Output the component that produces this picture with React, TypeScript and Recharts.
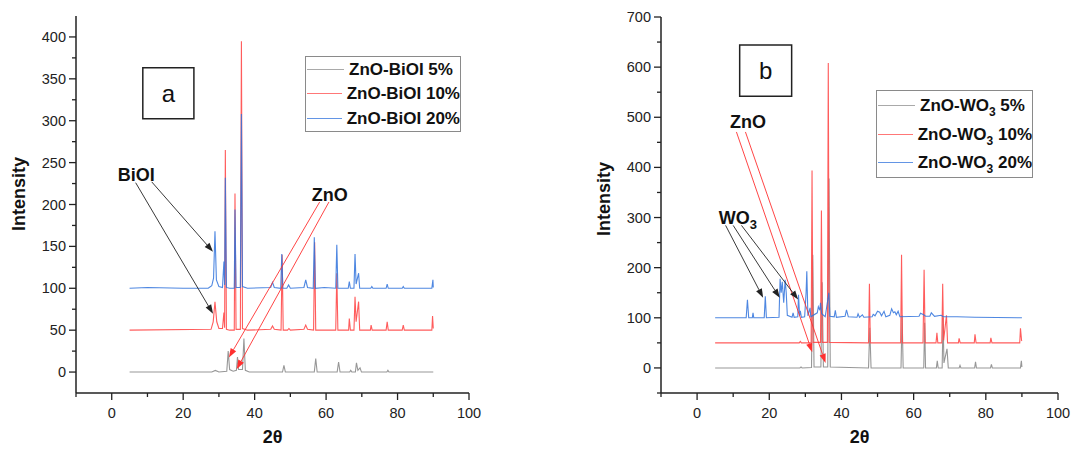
import React from 'react'
import { LineChart, Line, XAxis, YAxis, Legend, ReferenceLine, ReferenceArea, ReferenceDot } from 'recharts'

type Pt = [number, number]

const FONT = '"Liberation Sans", Arial, sans-serif'

// axis ticks
const xMajor = [0, 20, 40, 60, 80, 100]
const xMinor = [-10, 10, 30, 50, 70, 90]
const yMajorA = [0, 50, 100, 150, 200, 250, 300, 350, 400]
const yMinorA = [25, 75, 125, 175, 225, 275, 325, 375]
const yMajorB = [0, 100, 200, 300, 400, 500, 600, 700]
const yMinorB = [-50, 50, 150, 250, 350, 450, 550, 650]

const namesA = ['ZnO-BiOI 5%', 'ZnO-BiOI 10%', 'ZnO-BiOI 20%']
const namesB = ['ZnO-WO3 5%', 'ZnO-WO3 10%', 'ZnO-WO3 20%']
const colors = ['#8c8c8c', '#ff4a4a', '#2f72dc']

// panel a : [2θ, intensity]
const bioi5: Pt[] = [
  [5, 0], [28, 0], [29, 2], [30, 0], [32.2, 1], [32.6, 25], [33, 3], [34, 1], [34.9, 2], [35.2, 18], [35.5, 3],
  [36.6, 3], [37, 40], [37.4, 2], [38.5, 0], [47.8, 0], [48.2, 8], [48.6, 0], [56.7, 0], [57.1, 16], [57.5, 0],
  [63.1, 0], [63.5, 12], [63.9, 0], [66.6, 0], [66.9, 2], [67.2, 0], [68.2, 0], [68.5, 11], [68.9, 2], [69.5, 5],
  [69.9, 0], [77, 0], [77.3, 2], [77.6, 0], [90, 0],
]
const bioi10: Pt[] = [
  [5, 50], [27.8, 51], [28.4, 60], [28.9, 84], [29.4, 60], [30, 52], [31, 52], [31.4, 71], [31.6, 53], [31.8, 265],
  [32.1, 51], [33, 50], [34.3, 50], [34.5, 213], [34.8, 51], [36, 51], [36.3, 395], [36.6, 52], [38, 50], [44.5, 51],
  [45, 55], [45.5, 51], [47.4, 50], [47.7, 140], [48, 50], [49.2, 50], [49.6, 52], [50, 50], [53.8, 51], [54.3, 56],
  [54.8, 51], [56.5, 50], [56.8, 155], [57.1, 50], [62.7, 50], [63, 118], [63.3, 50], [66.3, 50], [66.5, 64],
  [66.8, 50], [67.8, 50], [68.1, 90], [68.4, 60], [69.1, 84], [69.4, 50], [72.4, 50], [72.6, 56], [72.9, 50],
  [76.8, 50], [77.1, 60], [77.4, 50], [81.3, 50], [81.6, 56], [81.9, 50], [89.6, 50], [89.8, 67], [90, 52],
]
const bioi20: Pt[] = [
  [5, 100], [10, 101], [20, 100], [27, 100], [28, 103], [28.5, 112], [28.9, 168], [29.3, 110], [30, 102], [31, 101],
  [31.4, 132], [31.6, 104], [31.8, 232], [32.1, 101], [33, 100], [34.3, 100], [34.5, 194], [34.8, 101], [36, 101],
  [36.3, 308], [36.6, 102], [38, 100], [44.5, 101], [45, 107], [45.5, 101], [47.3, 100], [47.6, 141], [47.9, 100],
  [49, 100], [49.5, 104], [50, 100], [53.8, 101], [54.3, 110], [54.8, 101], [56.4, 100], [56.7, 161], [57, 100],
  [59.5, 101], [62.7, 100], [63, 152], [63.3, 100], [66.2, 100], [66.5, 108], [66.8, 100], [67.8, 100], [68.1, 141],
  [68.4, 105], [69.1, 118], [69.4, 100], [72.5, 100], [72.8, 102], [73.1, 100], [76.8, 100], [77.1, 105], [77.4, 100],
  [81.3, 100], [81.6, 102], [81.9, 100], [89.6, 100], [89.9, 110], [90, 101],
]

// panel b
const wo5: Pt[] = [
  [5, 0], [28.5, 0], [28.8, 2], [29.1, 0], [31.7, 1], [32.05, 226], [32.4, 2], [34.3, 2], [34.65, 171], [35, 2],
  [36.2, 2], [36.55, 378], [36.9, 2], [47.5, 0], [47.85, 80], [48.2, 0], [56.5, 0], [56.8, 105], [57.1, 0], [62.8, 0],
  [63.05, 90], [63.3, 0], [66.3, 0], [66.55, 14], [66.8, 0], [67.9, 0], [68.15, 100], [68.4, 10], [69.25, 38],
  [69.6, 0], [72.6, 0], [72.85, 5], [73.1, 0], [76.9, 0], [77.15, 12], [77.4, 0], [81.3, 0], [81.55, 7], [81.8, 0],
  [89.6, 0], [89.85, 14], [90, 2],
]
const wo10: Pt[] = [
  [5, 50], [28.3, 50], [28.6, 53], [28.9, 50], [31.6, 50], [31.85, 394], [32.1, 51], [34.2, 51], [34.45, 314],
  [34.7, 51], [36.1, 51], [36.35, 608], [36.6, 51], [47.5, 50], [47.75, 168], [48, 50], [56.4, 50], [56.65, 226],
  [56.9, 50], [62.6, 50], [62.9, 196], [63.2, 50], [66.2, 50], [66.45, 70], [66.7, 50], [67.8, 50], [68.05, 168],
  [68.3, 55], [69.1, 105], [69.4, 50], [72.4, 50], [72.6, 59], [72.9, 50], [76.8, 50], [77, 67], [77.3, 50],
  [81.2, 50], [81.4, 60], [81.7, 50], [89.4, 50], [89.6, 79], [89.9, 55], [90, 54],
]
const wo20: Pt[] = [
  [5, 100], [13.6, 100], [13.95, 136], [14.3, 100], [15.3, 100], [15.5, 110], [15.7, 100], [18.6, 100], [18.9, 143],
  [19.2, 100], [22.7, 101], [23, 178], [23.3, 150], [23.6, 172], [24, 130], [24.4, 176], [24.7, 150], [25, 105],
  [26.3, 101], [26.6, 110], [26.9, 101], [27.9, 102], [28.1, 146], [28.4, 104], [28.6, 114], [28.9, 101], [29.8, 102],
  [30.2, 150], [30.4, 193], [30.7, 104], [31.3, 120], [31.5, 102], [33.3, 110], [33.6, 122], [34, 115], [34.2, 130],
  [34.5, 108], [35.5, 102], [36.5, 150], [36.8, 103], [38, 102], [38.3, 115], [38.6, 101], [41, 103], [41.4, 116],
  [41.9, 102], [44.3, 101], [44.6, 108], [45, 101], [45.8, 106], [46.2, 101], [48.5, 102], [48.8, 107], [49.3, 104],
  [50, 113], [50.6, 111], [51.1, 104], [51.8, 113], [52.3, 102], [53.4, 105], [53.9, 118], [54.4, 110], [54.8, 112],
  [55.2, 106], [55.7, 113], [56.2, 102], [61.5, 103], [61.9, 109], [62.8, 106], [63.3, 103], [64.5, 103], [64.9, 110],
  [65.8, 103], [67.6, 105], [68.2, 102], [72, 102], [77, 101], [90, 100],
]

// annotations, in data units
const tagA = { x1: 8.7, x2: 23, y1: 302.4, y2: 363.3, text: 'a' }
const tagB = { x1: 11.8, x2: 26.2, y1: 542, y2: 644, text: 'b' }
const notesA = [{ x: 6.86, y: 235, text: 'BiOI' }, { x: 61, y: 211.7, text: 'ZnO' }]
const notesB = [{ x: 14.1, y: 491, text: 'ZnO' }, { x: 11.3, y: 300, text: 'WO3' }]
const arrowsA = [
  { from: [6.7, 226], to: [28.35, 69.6], red: false },
  { from: [11.2, 227], to: [28.35, 143.6], red: false },
  { from: [58.2, 203], to: [32.8, 17.4], red: true },
  { from: [60.8, 203], to: [35, 3.6], red: true },
]
const arrowsB = [
  { from: [10.9, 470.7], to: [31.9, 31.2], red: true },
  { from: [13.4, 470.7], to: [35.6, 10], red: true },
  { from: [7.9, 284.3], to: [18.3, 139.9], red: false },
  { from: [10, 284.3], to: [22.9, 139.9], red: false },
  { from: [12.3, 284.3], to: [28, 136.5], red: false },
]

const toPts = (a: Pt[]) => a.map(([x, y]) => ({ x, y }))

function withSub(s: string) {
  const i = s.indexOf('WO3')
  if (i < 0) return s
  return (
    <>
      {s.slice(0, i + 2)}
      <sub style={{ fontSize: 12, verticalAlign: -5, lineHeight: 0 }}>3</sub>
      {s.slice(i + 3)}
    </>
  )
}

function YTick(props: any) {
  const { x, y, payload, majors } = props
  const major = majors.includes(payload.value)
  return (
    <g>
      <line x1={x - (major ? 7 : 4)} x2={x} y1={y} y2={y} stroke="#222" strokeWidth={1.3} />
      {major && (
        <text x={x - 10} y={y} dy={5} textAnchor="end" fontSize={14.5} fill="#222" fontFamily={FONT}>
          {payload.value}
        </text>
      )}
    </g>
  )
}

function XTick(props: any) {
  const { x, y, payload } = props
  const major = xMajor.includes(payload.value)
  return (
    <g>
      <line x1={x} x2={x} y1={y} y2={y + (major ? 7 : 4)} stroke="#222" strokeWidth={1.3} />
      {major && (
        <text x={x} y={y + 25} textAnchor="middle" fontSize={14.5} fill="#222" fontFamily={FONT}>
          {payload.value}
        </text>
      )}
    </g>
  )
}

function YTitle(props: any) {
  const { viewBox, dx, dy } = props
  const cx = viewBox.x + dx
  const cy = viewBox.y + viewBox.height / 2 + dy
  return (
    <text x={cx} y={cy} transform={`rotate(-90 ${cx} ${cy})`} textAnchor="middle" dominantBaseline="central"
      fontSize={18} fontWeight="bold" fill="#111" fontFamily={FONT}>
      Intensity
    </text>
  )
}

function XTitle(props: any) {
  const { viewBox } = props
  return (
    <text x={viewBox.x + viewBox.width / 2} y={443} textAnchor="middle" fontSize={18} fontWeight="bold" fill="#111" fontFamily={FONT}>
      2θ
    </text>
  )
}

const arrowShape = (color: string) => (p: any) => {
  const { x1, y1, x2, y2 } = p
  const a = Math.atan2(y2 - y1, x2 - x1)
  const L = 9
  const W = 3.2
  const bx = x2 - L * Math.cos(a)
  const by = y2 - L * Math.sin(a)
  const nx = -Math.sin(a) * W
  const ny = Math.cos(a) * W
  return (
    <g>
      <line x1={x1} y1={y1} x2={bx} y2={by} stroke={color} strokeWidth={0.9} />
      <polygon points={`${x2},${y2} ${bx + nx},${by + ny} ${bx - nx},${by - ny}`} fill={color} />
    </g>
  )
}

const noteShape = (text: string) => (p: any) => {
  const i = text.indexOf('3')
  return (
    <text x={p.cx} y={p.cy} textAnchor="middle" dominantBaseline="central" fontSize={18} fontWeight="bold" fill="#111" fontFamily={FONT}>
      {i < 0 ? text : (
        <>
          {text.slice(0, i)}
          <tspan fontSize={13} dy={6}>3</tspan>
        </>
      )}
    </text>
  )
}

function LegendBox({ names, rowH, pad }: { names: string[]; rowH: number; pad: number }) {
  return (
    <div style={{ boxSizing: 'border-box', border: '1.5px solid #8a8a8a', background: '#fff', padding: `${pad}px 0 ${pad}px 1px` }}>
      {names.map((n, i) => (
        <div key={n} style={{ display: 'flex', alignItems: 'center', height: rowH }}>
          <div style={{ width: 37, height: 0, borderTop: `1.3px solid ${colors[i]}`, opacity: 0.75, marginRight: 5 }} />
          <span style={{ fontFamily: FONT, fontWeight: 700, fontSize: 17, color: '#111', lineHeight: 1, whiteSpace: 'nowrap' }}>
            {withSub(n)}
          </span>
        </div>
      ))}
    </div>
  )
}

type PanelProps = {
  left: number
  width: number
  top: number
  right: number
  yWidth: number
  yDomain: [number, number]
  yMajor: number[]
  yMinor: number[]
  series: Pt[][]
  names: string[]
  legend: { left: number; top: number; width: number; rowH: number; pad: number }
  tag: { x1: number; x2: number; y1: number; y2: number; text: string }
  notes: { x: number; y: number; text: string }[]
  arrows: { from: number[]; to: number[]; red: boolean }[]
  titleDx: number
  titleDy: number
}

function Panel(p: PanelProps) {
  const axis = { stroke: '#222', strokeWidth: 1.5 }
  return (
    <div style={{ position: 'absolute', left: p.left, top: 0 }}>
      <LineChart width={p.width} height={449} margin={{ top: p.top, right: p.right, bottom: 0, left: 0 }}>
        <XAxis type="number" dataKey="x" domain={[-10, 100]} allowDataOverflow ticks={[...xMinor, ...xMajor].sort((a, b) => a - b)}
          interval={0} tickSize={0} tickMargin={0} tickLine={false} axisLine={axis} height={56} tick={<XTick />}
          label={<XTitle />} />
        <XAxis xAxisId="top" orientation="top" type="number" dataKey="x" domain={[-10, 100]} allowDataOverflow height={0}
          tick={false} tickLine={false} axisLine={axis} />
        <YAxis type="number" dataKey="y" domain={p.yDomain} allowDataOverflow width={p.yWidth}
          ticks={[...p.yMinor, ...p.yMajor].sort((a, b) => a - b)} interval={0} tickSize={0} tickMargin={0} tickLine={false}
          axisLine={axis} tick={<YTick majors={p.yMajor} />} label={<YTitle dx={p.titleDx} dy={p.titleDy} />} />
        <YAxis yAxisId="right" orientation="right" type="number" domain={p.yDomain} allowDataOverflow width={0}
          tick={false} tickLine={false} axisLine={axis} />
        <Legend layout="vertical" align="center" verticalAlign="middle"
          wrapperStyle={{ left: p.legend.left, top: p.legend.top, width: p.legend.width }}
          content={() => <LegendBox names={p.names} rowH={p.legend.rowH} pad={p.legend.pad} />} />
        {p.series.map((s, i) => (
          <Line key={p.names[i]} name={p.names[i]} data={toPts(s)} dataKey="y" type="linear" stroke={colors[i]}
            strokeWidth={1.1} strokeOpacity={i === 2 ? 0.85 : 0.9} dot={false} activeDot={false} isAnimationActive={false} />
        ))}
        <ReferenceArea x1={p.tag.x1} x2={p.tag.x2} y1={p.tag.y1} y2={p.tag.y2} stroke="#222" strokeWidth={1.5} fill="#fff"
          fillOpacity={1} label={{ value: p.tag.text, position: 'center', fontSize: 24, fill: '#111', fontFamily: FONT }} />
        {p.notes.map((n) => (
          <ReferenceDot key={n.text} x={n.x} y={n.y} r={0} shape={noteShape(n.text)} />
        ))}
        {p.arrows.map((a, i) => (
          <ReferenceLine key={i} segment={[{ x: a.from[0], y: a.from[1] }, { x: a.to[0], y: a.to[1] }]}
            shape={arrowShape(a.red ? '#ff3030' : '#222')} />
        ))}
      </LineChart>
    </div>
  )
}

export default function App() {
  return (
    <div style={{ position: 'absolute', left: 0, top: 0, width: 1071, height: 449, background: '#fff', overflow: 'hidden' }}>
      <Panel left={0} width={530} top={16} right={61} yWidth={76} yDomain={[-25, 425]} yMajor={yMajorA} yMinor={yMinorA}
        series={[bioi5, bioi10, bioi20]} names={namesA}
        legend={{ left: 305, top: 56, width: 156, rowH: 24.5, pad: 0 }}
        tag={tagA} notes={notesA} arrows={arrowsA} titleDx={19} titleDy={-10.5} />
      <Panel left={540} width={531} top={17} right={13} yWidth={121} yDomain={[-50, 700]} yMajor={yMajorB} yMinor={yMinorB}
        series={[wo5, wo10, wo20]} names={namesB}
        legend={{ left: 336, top: 90, width: 157, rowH: 28.7, pad: 0 }}
        tag={tagB} notes={notesB} arrows={arrowsB} titleDx={63.5} titleDy={-6} />
    </div>
  )
}
